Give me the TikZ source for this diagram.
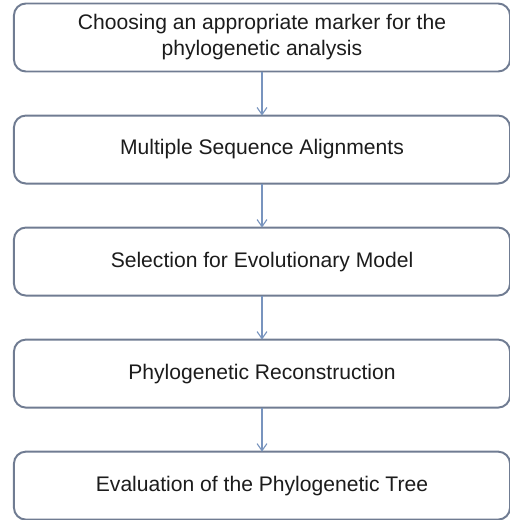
\documentclass[tikz,border=0pt]{standalone}
\usepackage{fontspec}
\setmainfont{Liberation Sans}
\usepackage{xcolor}
\usepackage{tikz}
\usetikzlibrary{positioning,arrows.meta}

\definecolor{boxline}{RGB}{112,124,146}
\definecolor{arrowline}{RGB}{120,148,190}
\definecolor{textcol}{RGB}{28,28,28}

\begin{document}
\begin{tikzpicture}[x=0.025cm, y=0.025cm, node distance=1.1cm,
    every node/.style={font=\fontsize{15}{18.5}\selectfont, text=textcol},
    stepbox/.style={rectangle, rounded corners=0.3cm, draw=boxline, line width=1.4pt,
        fill=white, minimum width=12.4cm, minimum height=1.7cm, outer sep=0pt, align=center},
    flow/.style={-{Straight Barb[length=5pt,width=7pt]}, draw=arrowline, line width=0.8pt}]
    \useasboundingbox (0,0) rectangle (510,-520);
    \node[stepbox] (marker) at (262,-37.5) {Choosing an appropriate marker for the\\phylogenetic analysis};
    \node[stepbox, below=of marker] (msa) {Multiple Sequence Alignments};
    \node[stepbox, below=of msa] (model) {Selection for Evolutionary Model};
    \node[stepbox, below=of model] (recon) {Phylogenetic Reconstruction};
    \node[stepbox, below=of recon] (eval) {Evaluation of the Phylogenetic Tree};
    \draw[flow] (marker) -- (msa);
    \draw[flow] (msa) -- (model);
    \draw[flow] (model) -- (recon);
    \draw[flow] (recon) -- (eval);
\end{tikzpicture}
\end{document}
